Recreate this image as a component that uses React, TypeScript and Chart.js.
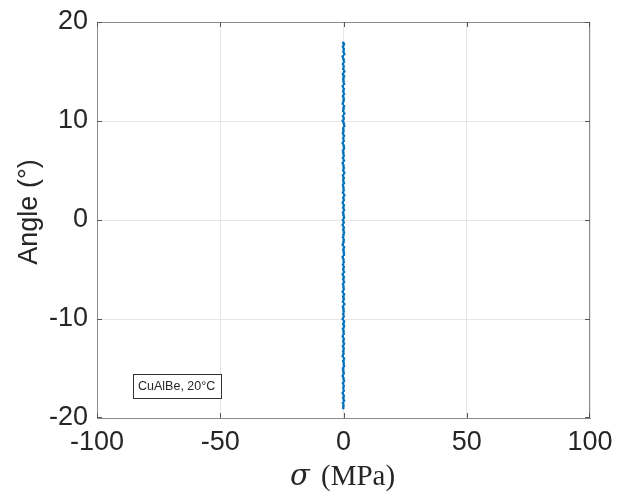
import React, { useEffect, useRef } from "react";
import { Chart, registerables } from "chart.js";

Chart.register(...registerables);

const xTicks = [-100, -50, 0, 50, 100];
const yTicks = [-20, -10, 0, 10, 20];
const xTitleSymbol = "σ";
const xTitleRest = " (MPa)";
const yTitle = "Angle (°)";
const legendText = "CuAlBe, 20°C";

const angle = [
  17.9, 17.75, 17.5, 17.25, 17.0, 16.75, 16.5, 16.25, 16.0, 15.75, 15.5, 15.25, 15.0, 14.75, 14.5, 14.25,
  14.0, 13.75, 13.5, 13.25, 13.0, 12.75, 12.5, 12.25, 12.0, 11.75, 11.5, 11.25, 11.0, 10.75, 10.5, 10.25,
  10.0, 9.75, 9.5, 9.25, 9.0, 8.75, 8.5, 8.25, 8.0, 7.75, 7.5, 7.25, 7.0, 6.75, 6.5, 6.25,
  6.0, 5.75, 5.5, 5.25, 5.0, 4.75, 4.5, 4.25, 4.0, 3.75, 3.5, 3.25, 3.0, 2.75, 2.5, 2.25,
  2.0, 1.75, 1.5, 1.25, 1.0, 0.75, 0.5, 0.25, 0.0, -0.25, -0.5, -0.75, -1.0, -1.25, -1.5, -1.75,
  -2.0, -2.25, -2.5, -2.75, -3.0, -3.25, -3.5, -3.75, -4.0, -4.25, -4.5, -4.75, -5.0, -5.25, -5.5, -5.75,
  -6.0, -6.25, -6.5, -6.75, -7.0, -7.25, -7.5, -7.75, -8.0, -8.25, -8.5, -8.75, -9.0, -9.25, -9.5, -9.75,
  -10.0, -10.25, -10.5, -10.75, -11.0, -11.25, -11.5, -11.75, -12.0, -12.25, -12.5, -12.75, -13.0, -13.25, -13.5, -13.75,
  -14.0, -14.25, -14.5, -14.75, -15.0, -15.25, -15.5, -15.75, -16.0, -16.25, -16.5, -16.75, -17.0, -17.25, -17.5, -17.75,
  -18.0, -18.25, -18.5, -18.75, -19.0,
];

const stress = [
  -0.1, 0.2, -0.2, 0.1, 0.0, 0.3, -0.3, 0.0, 0.2, -0.2, 0.1, -0.1, 0.3, -0.2, 0.2, -0.1,
  0.0, 0.2, -0.3, 0.1, -0.1, 0.2, -0.2, 0.1, 0.0, -0.3, 0.2, 0.0, -0.1, 0.3, -0.2, 0.1,
  -0.3, 0.1, 0.3, -0.1, 0.0, -0.2, 0.2, -0.1, 0.1, -0.3, 0.1, 0.2, -0.2, -0.1, 0.1, -0.2,
  0.2, -0.3, 0.0, 0.1, -0.1, 0.3, -0.2, 0.1, -0.1, 0.2, -0.2, 0.0, 0.1, -0.2, 0.3, -0.1,
  0.1, -0.3, 0.1, -0.1, 0.2, -0.2, 0.0, 0.2, -0.2, 0.1, -0.3, 0.1, -0.1, 0.2, 0.0, -0.2,
  0.1, 0.0, -0.3, 0.2, -0.1, 0.1, 0.2, -0.3, 0.0, 0.1, -0.2, 0.1, -0.1, 0.2, -0.3, 0.1,
  -0.1, 0.2, -0.2, 0.0, 0.1, -0.3, 0.2, -0.1, 0.1, -0.2, 0.3, -0.2, 0.0, 0.1, -0.1, 0.1,
  -0.3, 0.2, -0.1, 0.2, -0.2, 0.0, 0.1, -0.3, 0.1, -0.1, 0.2, -0.2, 0.1, -0.1, 0.0, -0.3,
  0.2, -0.1, 0.1, 0.2, -0.2, -0.1, 0.1, -0.3, 0.0, 0.2, -0.2, 0.1, -0.1, 0.1, -0.3, 0.1,
  -0.1, 0.2, -0.2, 0.0, -0.1,
];

const TICK_FONT = { family: "'Liberation Sans', Arial, Helvetica, sans-serif", size: 27 };
const TEXT_COLOR = "#262626";
const AXIS_COLOR = "#8a8a8a";

const decorPlugin = {
  id: "decor",
  afterDraw(chart: any) {
    const { ctx, chartArea } = chart;
    const { left, right, top, bottom } = chartArea;
    const xs = chart.scales.x;
    const ys = chart.scales.y;
    ctx.save();
    ctx.strokeStyle = AXIS_COLOR;
    ctx.lineWidth = 1;
    ctx.beginPath();
    ctx.moveTo(left, top + 0.5);
    ctx.lineTo(right, top + 0.5);
    ctx.moveTo(right - 0.5, top);
    ctx.lineTo(right - 0.5, bottom);
    ctx.stroke();
    const tl = 5;
    ctx.strokeStyle = "#555";
    ctx.beginPath();
    xTicks.forEach((v) => {
      let px = Math.round(xs.getPixelForValue(v)) + 0.5;
      px = Math.min(Math.max(px, left + 0.5), right - 0.5);
      ctx.moveTo(px, bottom);
      ctx.lineTo(px, bottom - tl);
      ctx.moveTo(px, top);
      ctx.lineTo(px, top + tl);
    });
    yTicks.forEach((v) => {
      let py = Math.round(ys.getPixelForValue(v)) + 0.5;
      py = Math.min(Math.max(py, top + 0.5), bottom - 0.5);
      ctx.moveTo(left, py);
      ctx.lineTo(left + tl, py);
      ctx.moveTo(right, py);
      ctx.lineTo(right - tl, py);
    });
    ctx.stroke();

    const bx = 133.5, by = 374.5, bw = 88, bh = 24;
    ctx.fillStyle = "#ffffff";
    ctx.fillRect(bx, by, bw, bh);
    ctx.strokeStyle = "#333333";
    ctx.strokeRect(bx, by, bw, bh);
    ctx.fillStyle = TEXT_COLOR;
    ctx.font = "12.5px 'Liberation Sans', Arial, sans-serif";
    ctx.textAlign = "left";
    ctx.textBaseline = "middle";
    ctx.fillText(legendText, 138, by + bh / 2 + 0.5);

    ctx.save();
    ctx.translate(37, 212);
    ctx.rotate(-Math.PI / 2);
    ctx.font = "27px 'Liberation Sans', Arial, sans-serif";
    ctx.textAlign = "center";
    ctx.textBaseline = "alphabetic";
    ctx.fillStyle = TEXT_COLOR;
    ctx.fillText(yTitle, 0, 0);
    ctx.restore();

    ctx.fillStyle = TEXT_COLOR;
    ctx.textBaseline = "alphabetic";
    ctx.textAlign = "left";
    const f1 = "italic 29px 'DejaVu Serif', 'Liberation Serif', serif";
    const f2 = "29px 'Liberation Serif', 'DejaVu Serif', serif";
    ctx.font = f1;
    const w1 = ctx.measureText(xTitleSymbol).width + 4;
    ctx.font = f2;
    const w2 = ctx.measureText(xTitleRest).width;
    const cx = xs.getPixelForValue(0) - 1;
    const startX = cx - (w1 + w2) / 2;
    const baseY = 485;
    ctx.font = f1;
    ctx.fillText(xTitleSymbol, startX, baseY);
    ctx.font = f2;
    ctx.fillText(xTitleRest, startX + w1, baseY);
    ctx.restore();
  },
};

const zeroPad = (s: any) => {
  s.paddingTop = 0;
  s.paddingBottom = 0;
  s.paddingLeft = 0;
  s.paddingRight = 0;
};

export default function App() {
  const ref = useRef<HTMLCanvasElement>(null);
  useEffect(() => {
    if (!ref.current) return;
    const points = angle.map((a, i) => ({ x: stress[i], y: a }));
    const chart = new Chart(ref.current, {
      type: "scatter",
      data: {
        datasets: [
          {
            data: points,
            showLine: true,
            borderColor: "#0072BD",
            backgroundColor: "#0072BD",
            borderWidth: 1.2,
            pointRadius: 0.8,
            pointHoverRadius: 0,
            tension: 0,
          },
        ],
      },
      options: {
        animation: false,
        responsive: false,
        devicePixelRatio: 1,
        layout: { padding: { top: 22, right: 27, left: 0, bottom: 0 } },
        plugins: { legend: { display: false }, tooltip: { enabled: false } },
        scales: {
          x: {
            type: "linear",
            min: -100,
            max: 100,
            afterFit: (s: any) => {
              s.height = 74;
              zeroPad(s);
            },
            afterBuildTicks: (s: any) => {
              s.ticks = xTicks.map((v) => ({ value: v }));
            },
            ticks: { font: TICK_FONT, color: TEXT_COLOR, padding: 8, maxRotation: 0 },
            grid: { color: "#e6e6e6", drawTicks: false },
            border: { color: AXIS_COLOR },
          },
          y: {
            type: "linear",
            min: -20,
            max: 20,
            afterFit: (s: any) => {
              s.width = 97;
              zeroPad(s);
            },
            afterBuildTicks: (s: any) => {
              s.ticks = yTicks.map((v) => ({ value: v }));
            },
            ticks: { font: TICK_FONT, color: TEXT_COLOR, padding: 9 },
            grid: { color: "#e6e6e6", drawTicks: false },
            border: { color: AXIS_COLOR },
          },
        },
      },
      plugins: [decorPlugin],
    });
    return () => chart.destroy();
  }, []);
  return (
    <div style={{ position: "absolute", left: 0, top: 0, width: 617, height: 492, background: "#fff" }}>
      <canvas ref={ref} width={617} height={492} style={{ display: "block" }} />
    </div>
  );
}
